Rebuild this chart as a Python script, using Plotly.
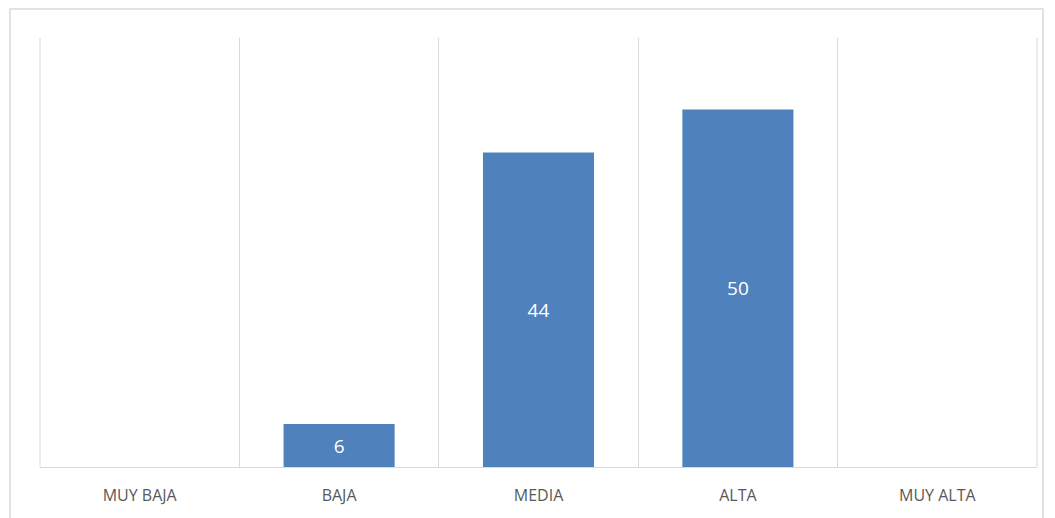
import plotly.graph_objects as go

categories = ["MUY BAJA", "BAJA", "MEDIA", "ALTA", "MUY ALTA"]
values = [0, 6, 44, 50, 0]
labels = [str(v) for v in values]

fig = go.Figure()
fig.add_trace(go.Bar(
    x=categories, y=values, text=labels,
    textposition="inside", insidetextanchor="middle",
    textfont=dict(family="Open Sans", size=19, color="white"),
    marker=dict(color="#4f81bd", line=dict(width=0)),
))

grid = "#d9d9d9"
fig.update_layout(
    width=1047, height=510,
    margin=dict(l=32, r=18, t=30, b=51),
    paper_bgcolor="white", plot_bgcolor="white",
    bargap=0.443, showlegend=False,
    uniformtext=dict(minsize=8, mode="hide"),
    shapes=[
        dict(type="rect", xref="paper", yref="paper",
             x0=-0.0301, x1=1.006, y0=-0.2, y1=1.0676,
             line=dict(color=grid, width=1.5), layer="below"),
        dict(type="line", xref="paper", yref="paper", x0=0, x1=0, y0=0, y1=1,
             line=dict(color=grid, width=1), layer="below"),
        dict(type="line", xref="paper", yref="paper", x0=1, x1=1, y0=0, y1=1,
             line=dict(color=grid, width=1), layer="below"),
    ],
)
fig.update_xaxes(
    type="category", tickson="boundaries", showgrid=True,
    gridcolor=grid, gridwidth=1, ticks="",
    showline=True, linecolor=grid, linewidth=1,
    tickfont=dict(family="Open Sans", size=16, color="#595959"),
    ticklabelstandoff=14,
    range=[-0.5, 4.5],
)
fig.update_yaxes(range=[0, 60], showgrid=False, showticklabels=False,
                 zeroline=False, showline=False)

fig.write_html("out.html")
